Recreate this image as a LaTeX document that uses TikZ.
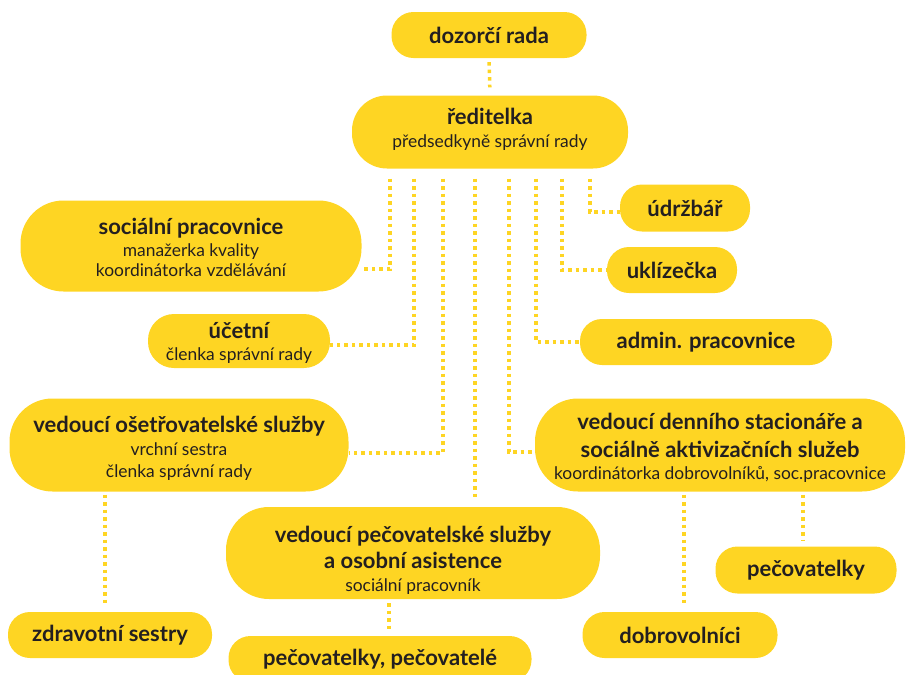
\documentclass[tikz,border=0pt]{standalone}
\usepackage{fontspec}
\setmainfont{Lato}
\usepackage{xcolor}
\usetikzlibrary{positioning}
\definecolor{zluta}{RGB}{254,213,35}
\definecolor{pismo}{RGB}{35,31,32}
\newcommand{\radky}{\lineskiplimit -50pt\relax}
\tikzset{
    bublina/.style={
        rectangle,
        fill=zluta,
        text=pismo,
        align=center,
        inner sep=0pt,
        font=\fontsize{17.4}{21}\selectfont\radky
    },
    mala/.style={bublina, minimum height=46pt, rounded corners=22pt},
    stredni/.style={bublina, minimum height=54pt, rounded corners=26pt},
    velka/.style={bublina, minimum height=92pt, rounded corners=43pt},
    posun/.style={text height=#1, text depth=0pt},
    spoj/.style={draw=zluta, line width=3.5pt, dash pattern=on 3.5pt off 4pt}
}
\newcommand{\titul}[1]{{\fontsize{22}{25}\selectfont\bfseries #1}}

\begin{document}
\begin{tikzpicture}[x=1pt, y=-1pt]
    \useasboundingbox (0,0) rectangle (906,675);

    \node[mala, minimum width=195pt] (dozorci) at (489,35) {\titul{dozorčí rada}};
    \node[bublina, minimum width=276pt, minimum height=73pt, rounded corners=35pt, posun=30pt] (reditelka) at (490,132)
        {\titul{ředitelka}\\[2pt] předsedkyně správní rady};

    \node[velka, minimum width=341pt, minimum height=91pt, posun=61pt] (socialni) at (191,246)
        {\titul{sociální pracovnice}\\[1pt] manažerka kvality\\[-1pt] koordinátorka vzdělávání};
    \node[stredni, minimum width=182pt, posun=38pt] (ucetni) at (239,341)
        {\titul{účetní}\\[1pt] členka správní rady};
    \node[mala, minimum width=130pt, minimum height=47pt] (udrzbar) at (685,208) {\titul{údržbář}};
    \node[mala, minimum width=130pt] (uklizecka) at (672,270) {\titul{uklízečka}};
    \node[mala, minimum width=252pt] (admin) at (706,342) {\titul{admin. pracovnice}};

    \node[velka, minimum width=339pt, minimum height=93pt, posun=64pt] (osetr) at (179,445)
        {\titul{vedoucí ošetřovatelské služby}\\[2pt] vrchní sestra\\[1pt] členka správní rady};
    \node[velka, minimum width=370pt, minimum height=93pt, posun=68pt] (denni) at (720,445)
        {\titul{vedoucí denního stacionáře a}\\[7pt]
         \titul{sociálně aktivizačních služeb}\\[1pt]
         koordinátorka dobrovolníků, soc.pracovnice};
    \node[velka, minimum width=374pt, minimum height=92pt, posun=76pt] (pecovatelska) at (413,553)
        {\titul{vedoucí pečovatelské služby}\\[5pt]
         \titul{a osobní asistence}\\[2pt]
         sociální pracovník};

    \node[mala, minimum width=204pt] (zdravotni) at (110,635) {\titul{zdravotní sestry}};
    \node[mala, minimum width=303pt] (pecovatele) at (380,659) {\titul{pečovatelky, pečovatelé}};
    \node[mala, minimum width=195pt] (dobrovolnici) at (680,635) {\titul{dobrovolníci}};
    \node[mala, minimum width=181pt, minimum height=47pt] (pecovatelky) at (806,570) {\titul{pečovatelky}};

    % vedeni
    \draw[spoj, shorten <=4pt, shorten >=8pt] (dozorci.south) -- (reditelka.north);

    % vetve od reditelky
    \draw[spoj] ([xshift=-100pt,yshift=-10pt]reditelka.south) |- ([yshift=-23pt]socialni.east);
    \draw[spoj] ([xshift=-76pt,yshift=-10pt]reditelka.south) |- ([yshift=-4pt]ucetni.east);
    \draw[spoj] ([xshift=-47pt,yshift=-10pt]reditelka.south) |- ([yshift=-8pt]osetr.east);
    \draw[spoj] ([xshift=-15pt,yshift=-10pt]reditelka.south) -- ([xshift=62pt,yshift=7pt]pecovatelska.north);
    \draw[spoj] ([xshift=19pt,yshift=-10pt]reditelka.south) |- ([yshift=-7pt]denni.west);
    \draw[spoj] ([xshift=46pt,yshift=-10pt]reditelka.south) |- (admin.west);
    \draw[spoj] ([xshift=72pt,yshift=-10pt]reditelka.south) |- (uklizecka.west);
    \draw[spoj] ([xshift=100pt,yshift=-10pt]reditelka.south) |- ([yshift=-4pt]udrzbar.west);

    % podrizeni
    \draw[spoj] ([xshift=-74pt,yshift=-3pt]osetr.south) -- ([xshift=-5pt,yshift=7pt]zdravotni.north);
    \draw[spoj] ([xshift=-24pt,yshift=-4pt]pecovatelska.south) -- ([xshift=9pt,yshift=6pt]pecovatele.north);
    \draw[spoj] ([xshift=-36pt,yshift=-3pt]denni.south) -- ([xshift=4pt,yshift=7pt]dobrovolnici.north);
    \draw[spoj] ([xshift=83pt,yshift=-3pt]denni.south) -- ([xshift=-3pt,yshift=6pt]pecovatelky.north);
\end{tikzpicture}
\end{document}
